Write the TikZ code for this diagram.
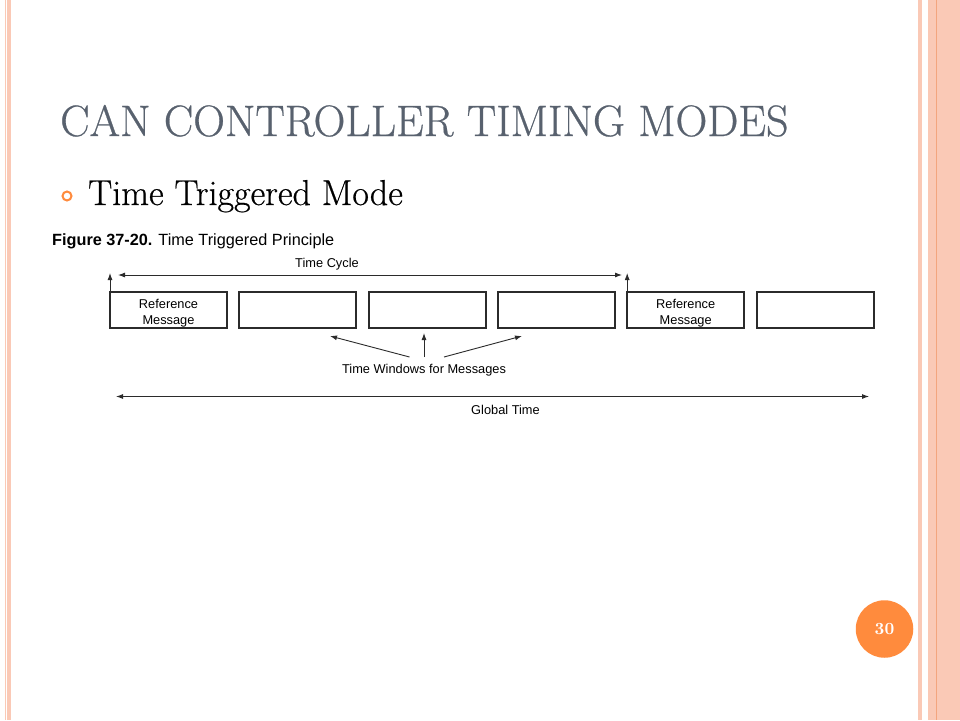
\documentclass[tikz,border=0pt]{standalone}
\usepackage{fontspec}
\newfontfamily\helv{Liberation Sans}
\newfontfamily\slidefont{Latin Modern Roman}[FakeBold=0.6]
\newfontfamily\pagefont{lmroman10-bold}[Extension=.otf]
\usetikzlibrary{arrows.meta,positioning}
\definecolor{peach}{HTML}{FAC9B6}
\definecolor{peachdark}{HTML}{F3A57E}
\definecolor{slidetitle}{HTML}{58616E}
\definecolor{slideorange}{HTML}{FF8B3D}
\definecolor{figline}{HTML}{2B2B2B}

\begin{document}
\begin{tikzpicture}[
    x=1pt, y=-1pt,
    slot/.style={
        draw=figline, line width=2pt,
        minimum width=117pt, minimum height=36pt,
        inner sep=0pt, outer sep=0pt
    },
    figlabel/.style={inner sep=0pt, font=\helv\fontsize{12.8}{15.5}\selectfont},
    slottext/.style={figlabel, align=center, yshift=-3pt},
    figarrow/.style={draw=figline, line width=0.9pt, -{Latex[length=7pt,width=5pt]}},
    figboth/.style={figarrow, {Latex[length=7pt,width=5pt]}-{Latex[length=7pt,width=5pt]}}
]
\useasboundingbox (0,0) rectangle (960,720);
% slide frame
\fill[white] (0,0) rectangle (960,720);
\fill[peach] (4.7,0) rectangle (5.8,720);
\fill[peach] (7,0) rectangle (11,720);
\fill[peach] (918,0) rectangle (922,720);
\fill[peach] (928,0) rectangle (960,720);
\fill[peachdark] (935.5,0) rectangle (937.3,720);

% heading
\node[anchor=base west, inner sep=0pt, text=slidetitle,
      font=\slidefont\fontsize{44}{50}\selectfont] (title) at (60,136) {CAN CONTROLLER TIMING MODES};
\node[circle, draw=slideorange, line width=2pt, minimum size=9pt, inner sep=0pt] (bullet) at (67,196) {};
\node[anchor=base west, inner sep=0pt, font=\slidefont\fontsize{36}{40}\selectfont] (point) at (88,205) {Time Triggered Mode};

% figure
\node[anchor=base west, inner sep=0pt, font=\helv\fontsize{16.25}{19}\selectfont] (caption) at (52,245)
    {\textbf{Figure 37-20.} Time Triggered Principle};

\node[slot, label={[slottext]center:Reference\\Message}] (ref1) at (168.5,310) {};
\node[slot, right=12.3pt of ref1] (win1) {};
\node[slot, right=12.3pt of win1] (win2) {};
\node[slot, right=12.3pt of win2] (win3) {};
\node[slot, right=12.3pt of win3, label={[slottext]center:Reference\\Message}] (ref2) {};
\node[slot, right=12.3pt of ref2] (win4) {};

\draw[figarrow] (ref1.north west) -- ++(0,-19);
\draw[figarrow] (ref2.north west) -- ++(0,-19);

\coordinate (cycleL) at (118,275);
\coordinate (cycleR) at (622,275);
\draw[figboth] (cycleL) -- (cycleR);
\node[figlabel] (cycle) at (327,264) {Time Cycle};

\node[figlabel] (windows) at (424,370) {Time Windows for Messages};
\draw[figarrow] (409.5,357) -- (330,336);
\draw[figarrow] (windows.north |- 0,357) -- (424,333);
\draw[figarrow] (444,357) -- (522,336);

\coordinate (globalL) at (116,396.5);
\coordinate (globalR) at (869,396.5);
\draw[figboth] (globalL) -- (globalR);
\node[figlabel] (global) at (505.5,409.5) {Global Time};

% page number
\node[circle, fill=slideorange, minimum size=57.5pt, inner sep=0pt, text=white,
      font=\pagefont\fontsize{17}{20}\selectfont] (page) at (884.5,629) {30};
\end{tikzpicture}
\end{document}
